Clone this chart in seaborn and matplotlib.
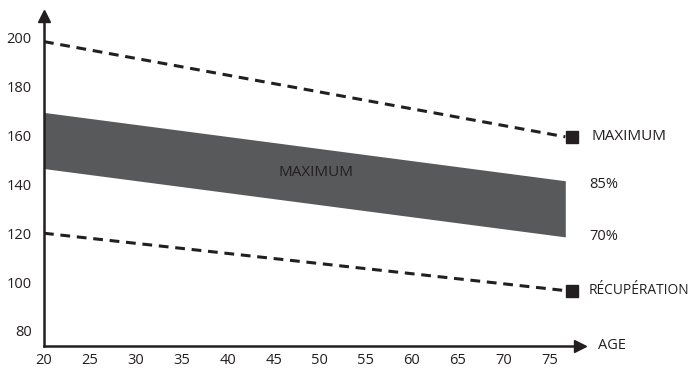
import matplotlib
matplotlib.use("Agg")
import matplotlib.pyplot as plt
import seaborn as sns
import pandas as pd

# Values
ages = [20, 76.7]
maximum = [198.5, 159.5]
recuperation = [120, 96.5]
zone_85 = [169.5, 141.5]
zone_70 = [146.5, 118.5]
marker_age = 77.4
x_ticks = [20, 25, 30, 35, 40, 45, 50, 55, 60, 65, 70, 75]
y_ticks = [80, 100, 120, 140, 160, 180, 200]

df = pd.DataFrame({"age": ages, "maximum": maximum, "recuperation": recuperation,
                   "z85": zone_85, "z70": zone_70})

sns.set_style("white")
plt.rcParams["font.family"] = ["Open Sans", "DejaVu Sans"]

fig = plt.figure(figsize=(6.95, 3.69), dpi=100)
ax = fig.add_axes([44 / 695, 23 / 369, 536 / 695, 330 / 369])

band_color = "#58595b"
ax.fill_between(df["age"], df["z70"], df["z85"], color=band_color, lw=0)

sns.lineplot(data=df, x="age", y="maximum", ax=ax, color="#231f20",
             lw=2.2, linestyle=(0, (3.2, 2.2)))
sns.lineplot(data=df, x="age", y="recuperation", ax=ax, color="#231f20",
             lw=2.2, linestyle=(0, (3.2, 2.2)))

# end squares
ax.plot([marker_age], [maximum[-1]], marker="s", ms=9, color="#231f20", clip_on=False)
ax.plot([marker_age], [recuperation[-1]], marker="s", ms=9, color="#231f20", clip_on=False)

ax.text(49.6, 144.8, "MAXIMUM", ha="center", va="center", fontsize=11, color="#231f20")
ax.text(79.5, maximum[-1], "MAXIMUM", ha="left", va="center", fontsize=11, color="#231f20", clip_on=False)
ax.text(79.3, 140, "85%", ha="left", va="center", fontsize=10.5, color="#231f20", clip_on=False)
ax.text(79.3, 118.5, "70%", ha="left", va="center", fontsize=10.5, color="#231f20", clip_on=False)
ax.text(79.2, 96.5, "RÉCUPÉRATION", ha="left", va="center", fontsize=9.9, color="#231f20", clip_on=False)
ax.text(80.3, 74, "AGE", ha="left", va="center", fontsize=10.5, color="#231f20", clip_on=False)

ax.set_xlim(20, 78.3)
ax.set_ylim(73.8, 209)
ax.set_xticks(x_ticks)
ax.set_yticks(y_ticks)
ax.tick_params(axis="both", length=0, labelsize=10.5, colors="#231f20")
ax.tick_params(axis="y", pad=9)
ax.tick_params(axis="x", pad=5)
ax.set_xlabel("")
ax.set_ylabel("")

for side in ["top", "right"]:
    ax.spines[side].set_visible(False)
for side in ["left", "bottom"]:
    ax.spines[side].set_color("#231f20")
    ax.spines[side].set_linewidth(1.8)

# axis arrowheads
ax.plot(0, 1, marker="^", ms=9, color="#231f20", transform=ax.transAxes, clip_on=False)
ax.plot(1, 0, marker=">", ms=9, color="#231f20", transform=ax.transAxes, clip_on=False)

plt.savefig("out.png", dpi=100)
